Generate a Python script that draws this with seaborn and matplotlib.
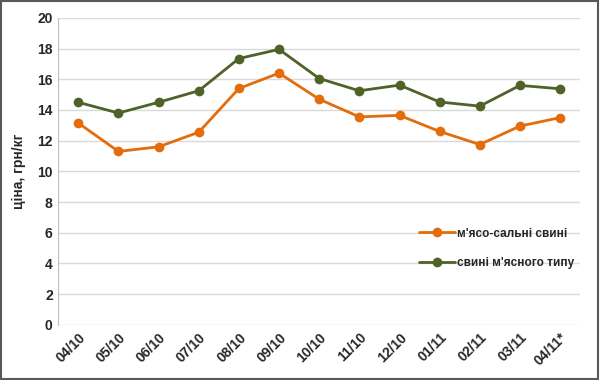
import seaborn as sns
import matplotlib.pyplot as plt
import pandas as pd
from matplotlib.patches import Rectangle

dates = ["04/10", "05/10", "06/10", "07/10", "08/10", "09/10", "10/10",
         "11/10", "12/10", "01/11", "02/11", "03/11", "04/11*"]
meat_fat = [13.15, 11.3, 11.6, 12.55, 15.4, 16.4, 14.7, 13.55, 13.65, 12.6, 11.75, 12.95, 13.5]
meat_type = [14.5, 13.8, 14.5, 15.25, 17.35, 17.95, 16.05, 15.25, 15.62, 14.52, 14.25, 15.6, 15.38]
series_names = ["м'ясо-сальні свині", "свині м'ясного типу"]
colors = ["#E46C0A", "#4F6228"]

df = pd.concat([
    pd.DataFrame({"date": dates, "price": meat_fat, "series": series_names[0]}),
    pd.DataFrame({"date": dates, "price": meat_type, "series": series_names[1]}),
])

sns.set_style("white")
plt.rcParams['font.family'] = ['Liberation Sans', 'DejaVu Sans']

fig = plt.figure(figsize=(6, 3.8), dpi=100)
ax = fig.add_axes([0.097, 0.145, 0.87, 0.808])

sns.lineplot(data=df, x="date", y="price", hue="series", palette=colors,
             marker="o", markersize=7, markeredgewidth=0, linewidth=2, ax=ax, sort=False)

ax.set_xlim(-0.5, len(dates) - 0.5)
ax.set_ylim(0, 20)
ax.set_yticks(range(0, 21, 2))
ax.yaxis.grid(True, color="#D9D9D9", linewidth=1)
ax.set_axisbelow(True)
for s in ["top", "right", "bottom"]:
    ax.spines[s].set_visible(False)
ax.spines["left"].set_color("#BFBFBF")
ax.tick_params(axis="both", length=0, labelsize=10, pad=4)
for lbl in ax.get_xticklabels() + ax.get_yticklabels():
    lbl.set_fontweight("bold")
plt.setp(ax.get_xticklabels(), rotation=45, ha="right", rotation_mode="anchor")
ax.set_xlabel("")
ax.set_ylabel("ціна, грн/кг", fontsize=10, fontweight="bold", labelpad=8)

leg = ax.legend(loc="center left", bbox_to_anchor=(0.67, 0.25), frameon=False,
                fontsize=8.5, handlelength=3.1, handletextpad=0.15, labelspacing=1.45)
for t in leg.get_texts():
    t.set_fontweight("bold")

fig.patches.append(Rectangle((0.002, 0.003), 0.995, 0.994, transform=fig.transFigure,
                             fill=False, edgecolor="#595959", linewidth=1.5))

fig.savefig("out.png", dpi=100)
